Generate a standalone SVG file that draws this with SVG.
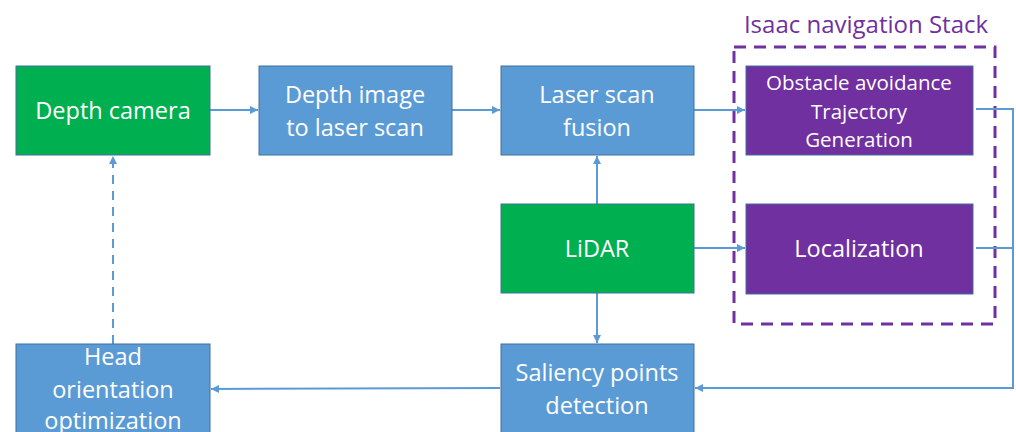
<svg xmlns="http://www.w3.org/2000/svg" width="1016" height="432" viewBox="0 0 1016 432">
<defs>
<style>
.g{fill:#00B050;stroke:#41719C;stroke-width:1}
.b{fill:#5B9BD5;stroke:#41719C;stroke-width:1}
.p{fill:#7030A0;stroke:#41719C;stroke-width:1}
.t{fill:#fff;font-family:"Open Sans","Noto Sans",sans-serif;font-size:23.5px;text-anchor:middle;dominant-baseline:central}
.ts{fill:#fff;font-family:"Open Sans","Noto Sans",sans-serif;font-size:20.5px;text-anchor:middle;dominant-baseline:central}
.c{fill:none;stroke:#5B9BD5;stroke-width:2}
</style>
<marker id="a" markerWidth="10" markerHeight="10" refX="9" refY="5" orient="auto" markerUnits="userSpaceOnUse">
<path d="M1,1 L9,5 L1,9 Z" fill="#5B9BD5"/>
</marker>
</defs>
<rect width="1016" height="432" fill="#fff"/>
<g id="nav-stack">
<rect x="734" y="47" width="261" height="277" fill="none" stroke="#7030A0" stroke-width="3" stroke-dasharray="12,8"/>
<text x="866" y="23" fill="#7030A0" font-family="'Open Sans','Noto Sans',sans-serif" font-size="24" text-anchor="middle" dominant-baseline="central">Isaac navigation Stack</text>
</g>
<g id="connectors">
<line class="c" x1="210" y1="110" x2="258" y2="110" marker-end="url(#a)"/>
<line class="c" x1="452" y1="110" x2="500" y2="110" marker-end="url(#a)"/>
<line class="c" x1="694" y1="110" x2="745" y2="110" marker-end="url(#a)"/>
<line class="c" x1="597" y1="204" x2="597" y2="156" marker-end="url(#a)"/>
<line class="c" x1="694" y1="248" x2="745" y2="248" marker-end="url(#a)"/>
<line class="c" x1="597" y1="293" x2="597" y2="343" marker-end="url(#a)"/>
<line class="c" x1="500" y1="388" x2="211" y2="389" marker-end="url(#a)"/>
<line class="c" x1="113" y1="344" x2="113" y2="156" stroke-dasharray="9,7" marker-end="url(#a)"/>
<polyline class="c" points="976,109 1013,109 1013,388 695,388" marker-end="url(#a)"/>
<line class="c" x1="976" y1="248" x2="1013" y2="248"/>
</g>
<g id="depth-camera">
<rect class="g" x="16" y="66" width="194" height="89"/>
<text class="t" x="113" y="110">Depth camera</text>
</g>
<g id="depth-image">
<rect class="b" x="259" y="66" width="193" height="89"/>
<text class="t" x="355" y="94">Depth image</text>
<text class="t" x="355" y="127">to laser scan</text>
</g>
<g id="laser-fusion">
<rect class="b" x="501" y="66" width="193" height="89"/>
<text class="t" x="597" y="94">Laser scan</text>
<text class="t" x="597" y="127">fusion</text>
</g>
<g id="lidar">
<rect class="g" x="501" y="204" width="193" height="89"/>
<text class="t" x="597" y="248">LiDAR</text>
</g>
<g id="obstacle">
<rect class="p" x="746" y="66" width="227" height="89"/>
<text class="ts" x="859" y="82">Obstacle avoidance</text>
<text class="ts" x="859" y="111">Trajectory</text>
<text class="ts" x="859" y="139">Generation</text>
</g>
<g id="localization">
<rect class="p" x="746" y="204" width="227" height="90"/>
<text class="t" x="859" y="248">Localization</text>
</g>
<g id="saliency">
<rect class="b" x="501" y="344" width="193" height="100"/>
<text class="t" x="597" y="372">Saliency points</text>
<text class="t" x="597" y="405">detection</text>
</g>
<g id="head">
<rect class="b" x="16" y="344" width="194" height="100"/>
<text class="t" x="113" y="356">Head</text>
<text class="t" x="113" y="389">orientation</text>
<text class="t" x="113" y="420">optimization</text>
</g>
</svg>
